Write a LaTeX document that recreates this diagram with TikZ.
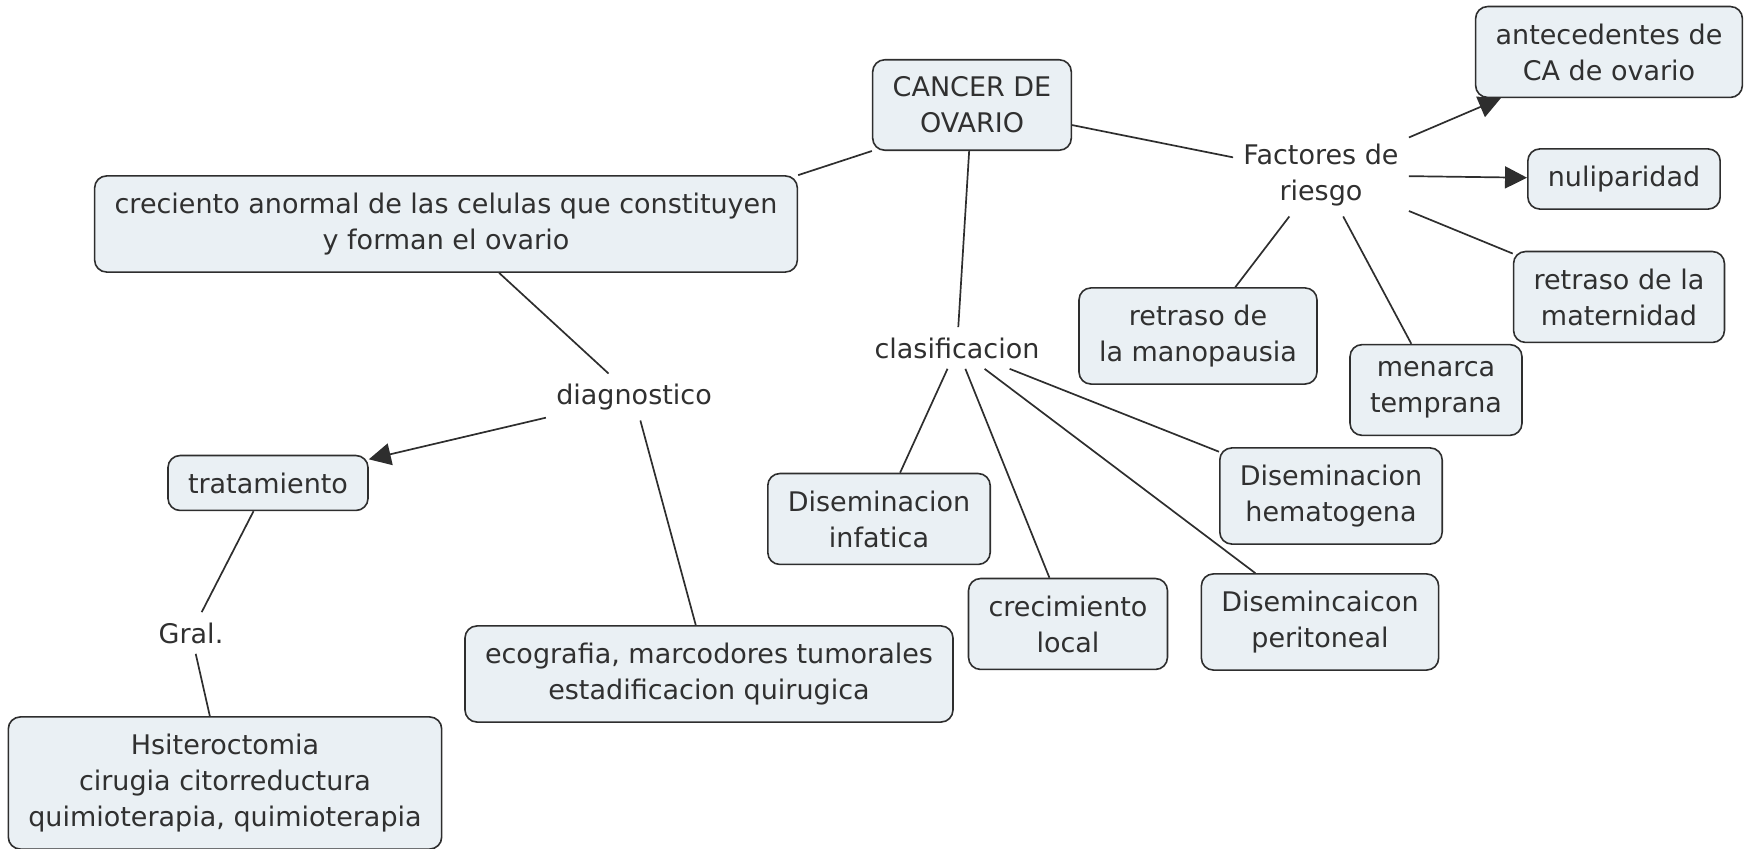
\documentclass[tikz,border=0pt]{standalone}
\usepackage{fontspec}
\setmainfont{DejaVu Sans}
\usetikzlibrary{arrows.meta}
\definecolor{cfill}{HTML}{EAF0F4}
\definecolor{cline}{HTML}{2E2E2E}
\definecolor{ctext}{HTML}{303030}
\tikzset{
  concept/.style ={rounded corners=6pt, draw=cline, fill=cfill, line width=0.8pt,
                   font=\fontsize{13.5}{18}\selectfont, text=ctext, align=center, inner xsep=10pt, inner ysep=8.5pt},
  linkph/.style  ={font=\fontsize{13.5}{18}\selectfont, text=ctext, align=center, inner sep=5pt},
  link/.style    ={draw=cline, line width=0.85pt},
  linkarr/.style ={link, -{Triangle[length=11pt,width=11pt]}},
}
\begin{document}
\begin{tikzpicture}[x=0.5pt,y=-0.5pt]
\useasboundingbox (0,0) rectangle (1753,849);
% ---- main concept
\node[concept] (cancer) at (972,105) {CANCER DE\\OVARIO};
\node[concept] (crec) at (446,224) {creciento anormal de las celulas que constituyen\\y forman el ovario};

% ---- linking phrases
\node[linkph] (factores) at (1321,175) {Factores de\\riesgo};
\node[linkph] (clasif) at (957,348) {clasificacion};
\node[linkph] (diag) at (634,397) {diagnostico};
\node[linkph] (gral) at (191,633) {Gral.};

% ---- left branch
\node[concept] (trat) at (268,483) {tratamiento};
\node[concept] (hsit) at (225,783) {Hsiteroctomia\\cirugia citorreductura\\quimioterapia, quimioterapia};
\node[concept] (eco) at (709,674) {ecografia, marcodores tumorales\\estadificacion quirugica};

% ---- clasificacion
\node[concept] (infat) at (879,519) {Diseminacion\\infatica};
\node[concept] (local) at (1068,624) {crecimiento\\local};
\node[concept] (hemat) at (1331,496) {Diseminacion\\hematogena};
\node[concept] (perit) at (1320,622) {Disemincaicon\\peritoneal};

% ---- factores de riesgo
\node[concept] (antec) at (1609,52) {antecedentes de\\CA de ovario};
\node[concept] (nulip) at (1624,179) {nuliparidad};
\node[concept] (matern) at (1619,297) {retraso de la\\maternidad};
\node[concept] (menarca) at (1436,390) {menarca\\temprana};
\node[concept] (menop) at (1198,336) {retraso de\\la manopausia};

% ---- connectors
\draw[link] (cancer.south west) -- (crec.north east);
\draw[link] (cancer) -- (factores);
\draw[link] (cancer) -- (clasif);
\draw[link] (crec) -- (diag);
\draw[linkarr] (diag) -- (trat);
\draw[link] (diag) -- (eco);
\draw[link] (trat) -- (gral);
\draw[link] (gral) -- (hsit);
\draw[link] (clasif) -- (infat);
\draw[link] (clasif) -- (local);
\draw[link] (clasif) -- (perit);
\draw[link] (clasif) -- (hemat);
\draw[linkarr] (factores) -- (antec);
\draw[linkarr] (factores) -- (nulip);
\draw[link] (factores) -- (matern);
\draw[link] (factores) -- (menarca);
\draw[link] (factores) -- (menop);
\end{tikzpicture}
\end{document}
